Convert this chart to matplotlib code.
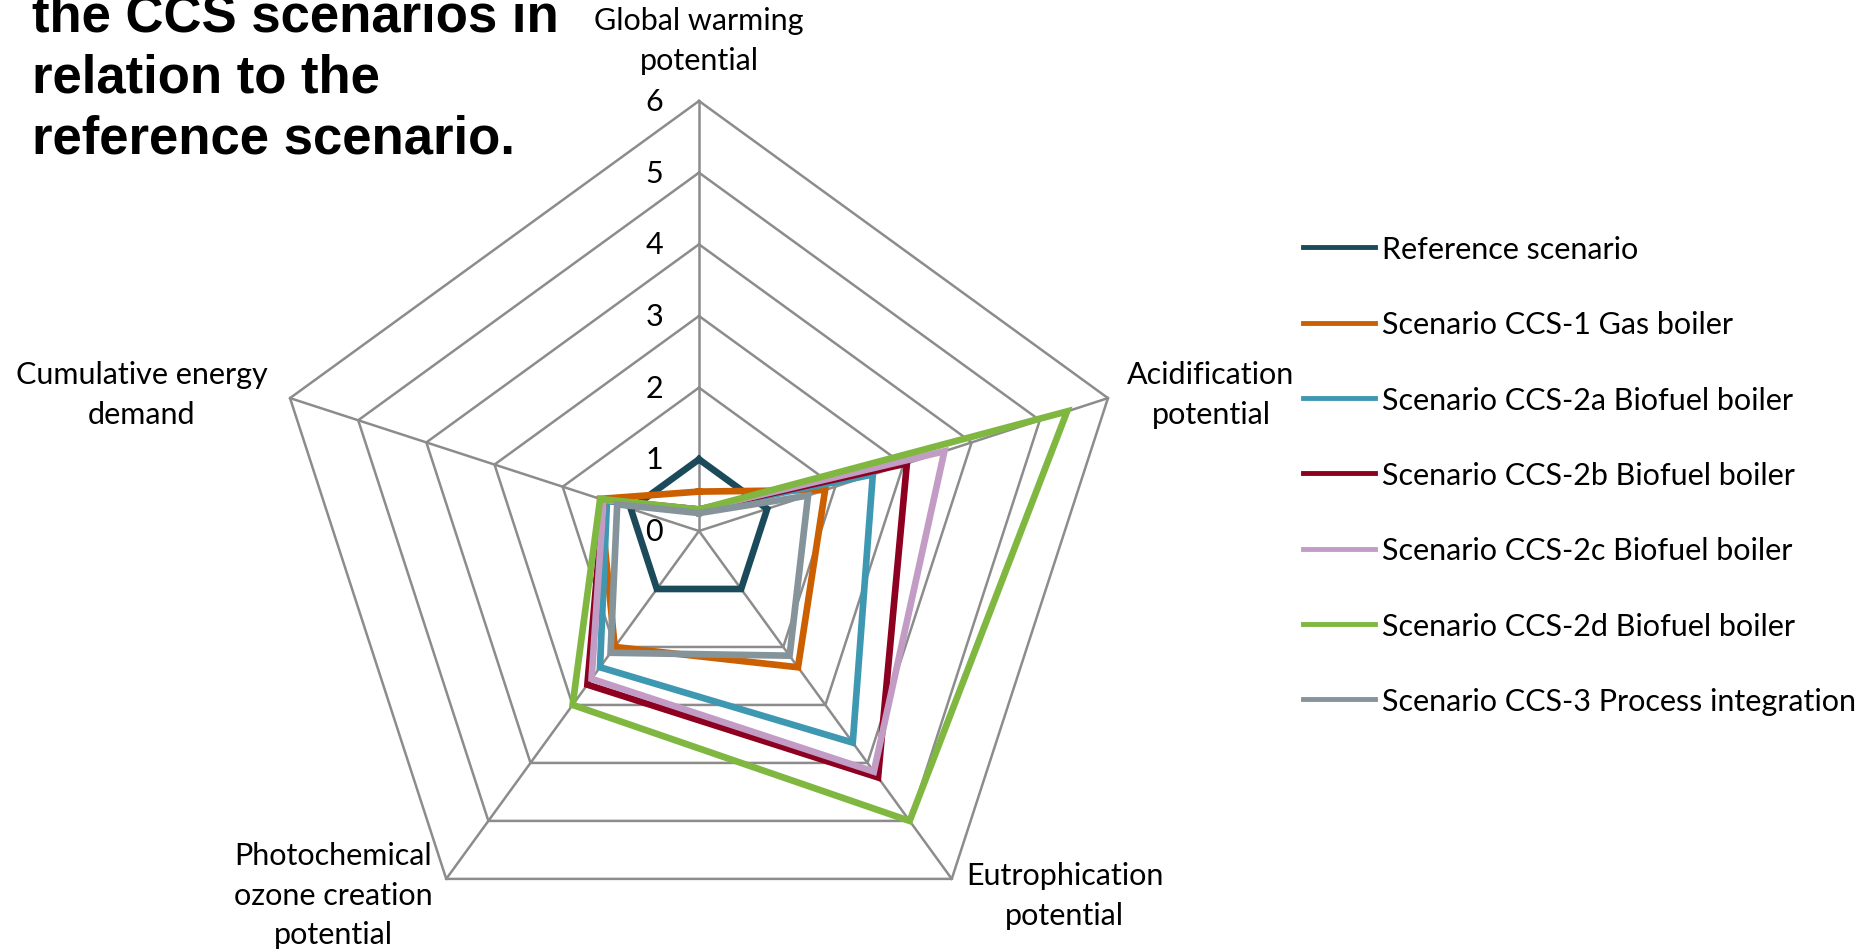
import matplotlib
matplotlib.use("Agg")
import matplotlib.pyplot as plt
import numpy as np

# impact categories, clockwise from the top
categories = ["Global warming\npotential", "Acidification\npotential",
              "Eutrophication\npotential",
              "Photochemical\nozone creation\npotential",
              "Cumulative energy\ndemand"]
ring_ticks = [0, 1, 2, 3, 4, 5, 6]

scenarios = ["Reference scenario",
             "Scenario CCS-1 Gas boiler",
             "Scenario CCS-2a Biofuel boiler",
             "Scenario CCS-2b Biofuel boiler",
             "Scenario CCS-2c Biofuel boiler",
             "Scenario CCS-2d Biofuel boiler",
             "Scenario CCS-3 Process integration"]

# relative impacts (reference = 1)
ref = [1.0, 1.0, 1.0, 1.0, 1.0]
ccs1 = [0.55, 1.85, 2.35, 2.0, 1.45]
ccs2a = [0.3, 2.55, 3.65, 2.35, 1.35]
ccs2b = [0.3, 3.05, 4.25, 2.65, 1.4]
ccs2c = [0.3, 3.6, 4.15, 2.55, 1.4]
ccs2d = [0.3, 5.4, 5.0, 3.0, 1.45]
ccs3 = [0.25, 1.6, 2.15, 2.1, 1.2]
series = [ref, ccs1, ccs2a, ccs2b, ccs2c, ccs2d, ccs3]

colors = ["#1b4a5a", "#cc6000", "#3f98b2", "#8e0020",
          "#c29cc4", "#7fb741", "#85949b"]

W, H = 1870, 953
fig = plt.figure(figsize=(W/100, H/100), dpi=100)
ax = fig.add_axes([0, 0, 1, 1])
unit = 71.67          # pixels per ring step
cx, cy = 699, H - 532
ax.set_xlim(-cx/unit, (W - cx)/unit)
ax.set_ylim(-cy/unit, (H - cy)/unit)
ax.axis("off")

txt = dict(family="Lato", fontsize=22, color="black")

theta = np.deg2rad(90 - 72*np.arange(len(categories)))

def closed(vals):
    v = np.append(vals, vals[0])
    t = np.append(theta, theta[0])
    return v*np.cos(t), v*np.sin(t)

# pentagon grid
grid_col = "#8c8c8c"
for r in ring_ticks[1:]:
    gx, gy = closed([r]*5)
    ax.plot(gx, gy, color=grid_col, lw=1.8, zorder=1)
rmax = ring_ticks[-1]
for t in theta:
    ax.plot([0, rmax*np.cos(t)], [0, rmax*np.sin(t)], color=grid_col, lw=1.8, zorder=1)

for r in ring_ticks:
    ax.annotate(str(r), (0, r), xytext=(-36, 0), textcoords="offset pixels",
                ha="right", va="center", **txt)

# category labels around the outer ring
offsets = [(0, 61), (103, 4), (113, -16), (-113, -16), (-148, 4)]
for name, t, off in zip(categories, theta, offsets):
    ax.annotate(name, (rmax*np.cos(t), rmax*np.sin(t)), xytext=off,
                textcoords="offset pixels", ha="center", va="center",
                multialignment="center", linespacing=1.5, **txt)

for i, (vals, name, c) in enumerate(zip(series, scenarios, colors)):
    sx, sy = closed(vals)
    ax.plot(sx, sy, color=c, lw=4.8, label=name, zorder=3 + i,
            solid_joinstyle="miter")

leg = ax.legend(loc="upper left", bbox_to_anchor=(1303/W, 1 - 236/H),
                bbox_transform=fig.transFigure, frameon=False,
                prop=dict(family="Lato", size=22), handlelength=2.35,
                handletextpad=0.23, labelspacing=1.55, borderpad=0,
                borderaxespad=0)
for line in leg.get_lines():
    line.set_linewidth(3.5)

fig.text(32/W, 1 - 164/H, "the CCS scenarios in\nrelation to the\nreference scenario.",
         family="Liberation Sans", weight="bold", fontsize=38,
         ha="left", va="bottom", linespacing=1.27)

fig.savefig("out.png", dpi=100)
